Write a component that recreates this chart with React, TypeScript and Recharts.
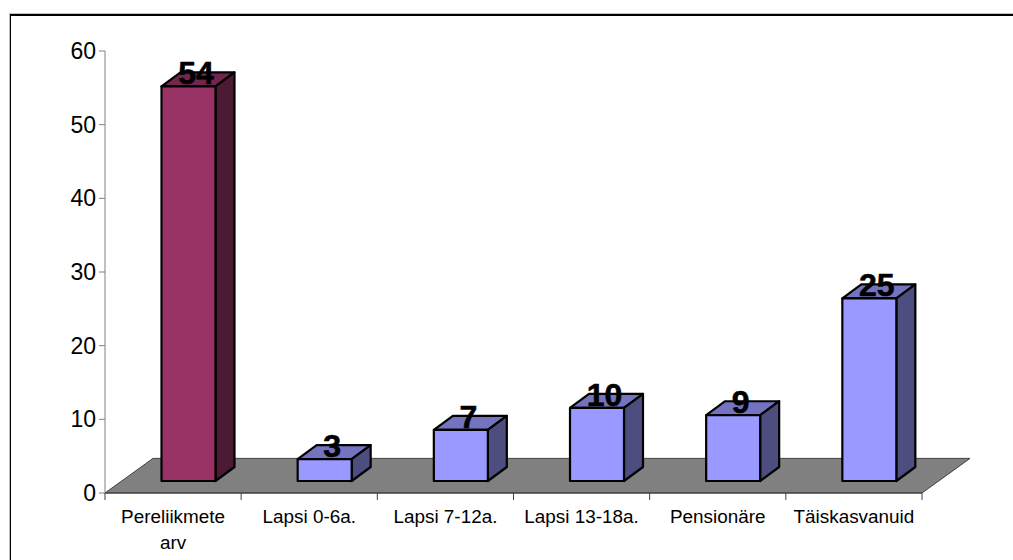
import { BarChart, Bar, XAxis, YAxis, ReferenceArea } from "recharts";

const categories = ["Pereliikmete arv", "Lapsi 0-6a.", "Lapsi 7-12a.", "Lapsi 13-18a.", "Pensionäre", "Täiskasvanuid"];
const values = [54, 3, 7, 10, 9, 25];
const yTicks = [0, 10, 20, 30, 40, 50, 60];

const data = categories.map((name, i) => ({ name, value: values[i] }));

const FONT = "'Liberation Sans', Arial, sans-serif";
const WIDTH = 1013;
const HEIGHT = 560;

// the Excel 3D look: bars stand on a floor slanting back from the axis
const DEPTH_X = 19;
const DEPTH_Y = 14;
const FLOOR_X = 48;
const SHIFT_X = 15.5;
const LIFT = 12;

function shade(i: number) {
  return i === 0
    ? { front: "#993366", top: "#73264d", side: "#4d1a33" }
    : { front: "#9999ff", top: "#7373bf", side: "#4d4d80" };
}

function Bar3D(props: any) {
  const { x, y, width, height, index } = props;
  const c = shade(index);
  const h = height * 0.992;
  const bottom = y + height - LIFT;
  const left = x + SHIFT_X;
  const right = left + width;
  const top = bottom - h;
  const outline = { stroke: "#000", strokeWidth: 2.2, strokeLinejoin: "round" as const };
  return (
    <g>
      <polygon
        points={`${left},${top} ${left + DEPTH_X},${top - DEPTH_Y} ${right + DEPTH_X},${top - DEPTH_Y} ${right},${top}`}
        fill={c.top}
        {...outline}
      />
      <polygon
        points={`${right},${top} ${right + DEPTH_X},${top - DEPTH_Y} ${right + DEPTH_X},${bottom - DEPTH_Y} ${right},${bottom}`}
        fill={c.side}
        {...outline}
      />
      <rect x={left} y={top} width={width} height={h} fill={c.front} {...outline} />
      <text
        x={left + width / 2 + 7.5}
        y={top - 2}
        textAnchor="middle"
        fontFamily={FONT}
        fontWeight="bold"
        fontSize={32}
        stroke="#000"
        strokeWidth={0.6}
        fill="#000"
      >
        {values[index]}
      </text>
    </g>
  );
}

function Floor(props: any) {
  const { x, y, width, height } = props;
  return (
    <polygon
      points={`${x},${y + height} ${x + width},${y + height} ${x + width + FLOOR_X},${y} ${x + FLOOR_X},${y}`}
      fill="#808080"
      stroke="#404040"
      strokeWidth={1}
    />
  );
}

function CategoryTick(props: any) {
  const { x, payload, index } = props;
  const band = 136.2;
  const top = 493;
  const words = payload.value === "Pereliikmete arv" ? ["Pereliikmete", "arv"] : [payload.value];
  return (
    <g>
      <line x1={x - band / 2} x2={x - band / 2} y1={top} y2={top + 7} stroke="#404040" />
      {index === categories.length - 1 && (
        <line x1={x + band / 2} x2={x + band / 2} y1={top} y2={top + 7} stroke="#404040" />
      )}
      {words.map((w: string, i: number) => (
        <text key={w} x={x} y={523 + i * 26} textAnchor="middle" fontFamily={FONT} fontSize={18.9} fill="#000">
          {w}
        </text>
      ))}
    </g>
  );
}

export default function App() {
  return (
    <div style={{ position: "absolute", left: 0, top: 0, width: WIDTH, height: HEIGHT, overflow: "hidden", background: "#fff" }}>
      <div style={{ position: "absolute", left: 9, top: 13, right: 0, height: 2, borderTop: "1px solid #c0c0c0", background: "#000" }} />
      <div style={{ position: "absolute", left: 9, top: 14, bottom: 0, width: 1, background: "#000", borderLeft: "1px solid #c0c0c0" }} />
      <BarChart
        width={WIDTH}
        height={HEIGHT}
        data={data}
        margin={{ top: 51, right: 91, bottom: 0, left: 0 }}
        style={{ position: "absolute", left: 0, top: 0 }}
      >
        <ReferenceArea y1={0} y2={4.7} shape={Floor} ifOverflow="visible" />
        <XAxis
          dataKey="name"
          height={67}
          axisLine={{ stroke: "#404040" }}
          tickLine={false}
          interval={0}
          tick={<CategoryTick />}
        />
        <YAxis
          width={105}
          domain={[0, 60]}
          ticks={yTicks}
          interval={0}
          axisLine={{ stroke: "#808080" }}
          tickLine={{ stroke: "#808080" }}
          tickSize={6}
          tickMargin={3}
          tick={{ fontFamily: FONT, fontSize: 23, fill: "#000" }}
        />
        <Bar dataKey="value" barSize={54} shape={<Bar3D />} isAnimationActive={false} />
      </BarChart>
    </div>
  );
}
